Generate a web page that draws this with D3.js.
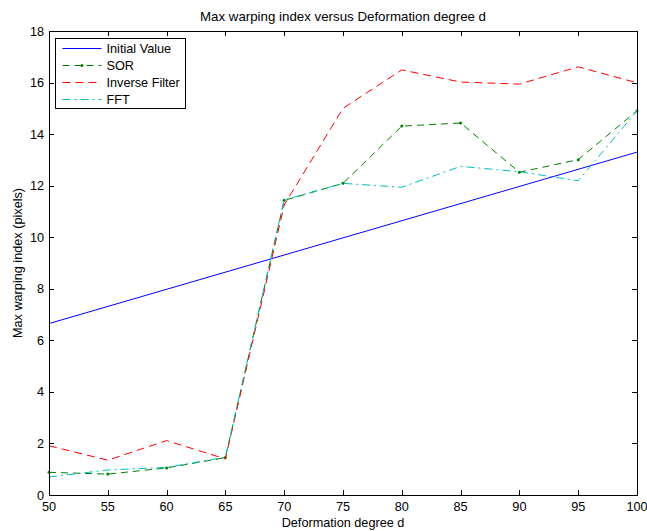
<!DOCTYPE html>
<html>
<head>
<meta charset="utf-8">
<script src="https://cdn.jsdelivr.net/npm/d3@7"></script>
<style>
  body { margin: 0; background: #fff; }
  svg { display: block; }
  text { font-family: "Liberation Sans", Arial, Helvetica, sans-serif; }
</style>
</head>
<body>
<svg id="chart" width="647" height="531"></svg>
<script>
// Deformation degree d
const degrees = [50, 55, 60, 65, 70, 75, 80, 85, 90, 95, 100];

// Initial value is a straight line over the full range
const initialX = [50, 100];
const initialY = [6.65, 13.3];

const sorValues     = [0.88, 0.81, 1.05, 1.45, 11.43, 12.09, 14.31, 14.43, 12.52, 13.01, 14.9];
const inverseValues = [1.91, 1.35, 2.11, 1.40, 11.25, 15.0, 16.49, 16.02, 15.94, 16.61, 15.99];
const fftValues     = [0.70, 0.97, 1.07, 1.47, 11.45, 12.09, 11.94, 12.75, 12.54, 12.19, 14.9];

const xTicks = [50, 55, 60, 65, 70, 75, 80, 85, 90, 95, 100];
const yTicks = [0, 2, 4, 6, 8, 10, 12, 14, 16, 18];

const legendLabels = ["Initial Value", "SOR", "Inverse Filter", "FFT"];

const svg = d3.select("#chart");
const m = { left: 49, right: 637, top: 31, bottom: 495 };
const fs = 12.7;

const x = d3.scaleLinear().domain([50, 100]).range([m.left, m.right]);
const y = d3.scaleLinear().domain([0, 18]).range([m.bottom, m.top]);

const series = [
  { name: legendLabels[0], xs: initialX, ys: initialY, color: "#0000ff", dash: null, dots: false },
  { name: legendLabels[1], xs: degrees, ys: sorValues, color: "#008000", dash: "7,5", dots: true },
  { name: legendLabels[2], xs: degrees, ys: inverseValues, color: "#ff0000", dash: "8,5", dots: false },
  { name: legendLabels[3], xs: degrees, ys: fftValues, color: "#00bfbf", dash: "8,4,2,4", dots: false }
];

// axes background
svg.append("rect")
  .attr("x", m.left).attr("y", m.top)
  .attr("width", m.right - m.left).attr("height", m.bottom - m.top)
  .attr("fill", "#fff");

const line = d3.line().x(d => x(d[0])).y(d => y(d[1]));

const plot = svg.append("g");
series.forEach(s => {
  const pts = s.xs.map((v, i) => [v, s.ys[i]]);
  plot.append("path")
    .attr("d", line(pts))
    .attr("fill", "none")
    .attr("stroke", s.color)
    .attr("stroke-width", 1)
    .attr("stroke-dasharray", s.dash);
  if (s.dots) {
    plot.selectAll(null).data(pts).enter().append("circle")
      .attr("cx", d => x(d[0])).attr("cy", d => y(d[1]))
      .attr("r", 1.5).attr("fill", s.color);
  }
});

// ticks inward on all four sides
const tickLen = 5;
const axisG = svg.append("g").attr("stroke", "#000").attr("stroke-width", 1);
xTicks.forEach(t => {
  const px = Math.round(x(t)) + 0.5;
  axisG.append("line").attr("x1", px).attr("x2", px).attr("y1", m.bottom).attr("y2", m.bottom - tickLen);
  axisG.append("line").attr("x1", px).attr("x2", px).attr("y1", m.top).attr("y2", m.top + tickLen);
});
yTicks.forEach(t => {
  const py = Math.round(y(t)) + 0.5;
  axisG.append("line").attr("x1", m.left).attr("x2", m.left + tickLen).attr("y1", py).attr("y2", py);
  axisG.append("line").attr("x1", m.right).attr("x2", m.right - tickLen).attr("y1", py).attr("y2", py);
});
svg.append("rect")
  .attr("x", m.left + 0.5).attr("y", m.top + 0.5)
  .attr("width", m.right - m.left).attr("height", m.bottom - m.top)
  .attr("fill", "none").attr("stroke", "#000").attr("stroke-width", 1);

// tick labels
svg.append("g").selectAll("text").data(xTicks).enter().append("text")
  .attr("x", d => x(d)).attr("y", m.bottom + 15.5)
  .attr("text-anchor", "middle").attr("font-size", fs).text(d => d);
svg.append("g").selectAll("text").data(yTicks).enter().append("text")
  .attr("x", m.left - 5).attr("y", d => y(d) + 4.5)
  .attr("text-anchor", "end").attr("font-size", fs).text(d => d);

// titles
svg.append("text").attr("x", (m.left + m.right) / 2).attr("y", 21)
  .attr("text-anchor", "middle").attr("font-size", 13.3)
  .text("Max warping index versus Deformation degree d");
svg.append("text").attr("x", (m.left + m.right) / 2).attr("y", 527)
  .attr("text-anchor", "middle").attr("font-size", fs)
  .text("Deformation degree d");
svg.append("text")
  .attr("transform", `translate(22,${(m.top + m.bottom) / 2}) rotate(-90)`)
  .attr("text-anchor", "middle").attr("font-size", fs)
  .text("Max warping index (pixels)");

// legend
const lg = svg.append("g").attr("transform", "translate(55.5,38.5)");
lg.append("rect").attr("width", 130).attr("height", 70)
  .attr("fill", "#fff").attr("stroke", "#000").attr("stroke-width", 1);
series.forEach((s, i) => {
  const yy = 10 + i * 17;
  lg.append("line").attr("x1", 7).attr("x2", 46).attr("y1", yy).attr("y2", yy)
    .attr("stroke", s.color).attr("stroke-width", 1).attr("stroke-dasharray", s.dash);
  if (s.dots) lg.append("circle").attr("cx", 26.5).attr("cy", yy).attr("r", 1.5).attr("fill", s.color);
  lg.append("text").attr("x", 51).attr("y", yy + 4.5).attr("font-size", fs).text(s.name);
});
</script>
</body>
</html>
